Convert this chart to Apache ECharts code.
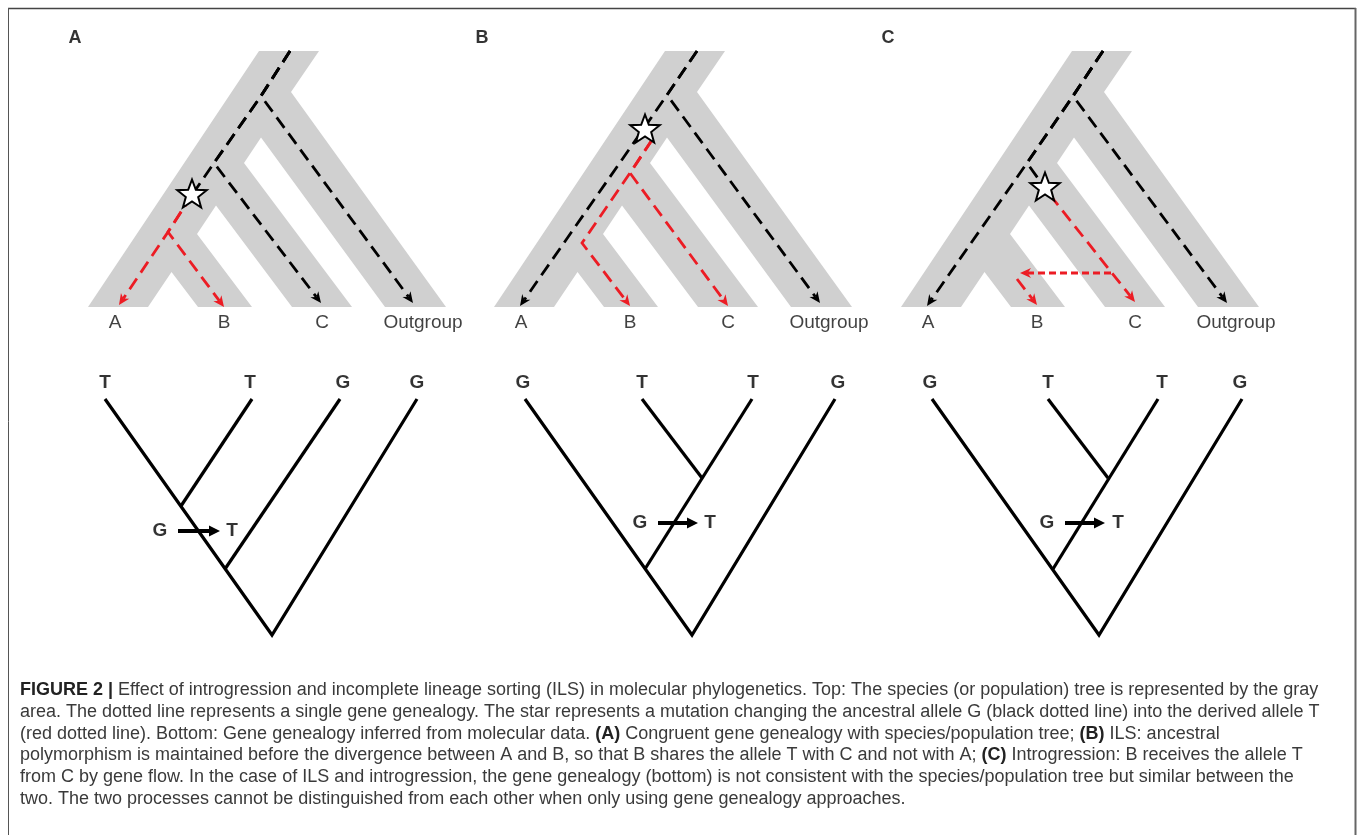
<!DOCTYPE html>
<html><head><meta charset="utf-8">
<script src="https://cdn.jsdelivr.net/npm/echarts@6/dist/echarts.min.js"></script>
<style>html,body{margin:0;padding:0;background:#fff}#c{width:1357px;height:835px}</style>
</head><body><div id="c"></div>
<script>
// ---------- data ----------
const W = 1357, H = 835;
const panelLetters = ['A', 'B', 'C'];
const panelLetterX = [75, 482, 888];
const panelLetterY = 38;
const panelOffsets = [0, 406, 813];

// species (population) tree outline for panel A, shifted by panelOffsets
const speciesOutline = [[259,51],[319,51],[291,92],[446,307],[385,307],[261,137.5],[244,163],[352,307],[292,307],[216,205.5],[197,234],[252,307],[198,307],[171.5,272],[148,307],[88,307]];
const tipNames = ['A', 'B', 'C', 'Outgroup'];
const tipNameX = [115, 224, 322, 423];
const tipNameY = 323;

// gene genealogies inside the species trees (k = ancestral G, r = derived T)
const lineageColor = ['k', 'k', 'k', 'r', 'r',   'k', 'k', 'r', 'r',   'k', 'k', 'k', 'r', 'r', 'r'];
const lineageDash  = ['l', 'l', 'l', 'l', 'l',   'l', 'l', 'l', 'l',   'l', 'l', 'l', 'l', 's', 'l'];
const lineageArrow = [1, 1, 0, 1, 1,             1, 1, 1, 1,           1, 1, 0, 1, 1, 1];
const lineagePaths = [
  // panel A
  [[290,51],[261,96],[413,303]],
  [[290,51],[261,96],[214,163],[321,303]],
  [[290,51],[261,96],[214,163],[192,195]],
  [[192,195],[168,232],[119,305]],
  [[192,195],[168,232],[224,307]],
  // panel B
  [[697,51],[667,95],[820,303]],
  [[697,51],[667,95],[520,306]],
  [[652,140],[630,173],[728,306]],
  [[652,140],[630,173],[582,243],[630,306]],
  // panel C
  [[1103,51],[1073,96],[1227,303]],
  [[1103,51],[1073,96],[1027,163],[927,306]],
  [[1103,51],[1073,96],[1027,163],[1045,188]],
  [[1050,195],[1135,302]],
  [[1111,273],[1020,273]],
  [[1017,279],[1037,305]]
];
const starCenters = [[192,195],[645,130],[1045,188]];

// gene genealogies (bottom)
const geneTipAlleles = [['T','T','G','G'], ['G','T','T','G'], ['G','T','T','G']];
const geneTipX = [[105,250,343,417], [523,642,753,838], [930,1048,1162,1240]];
const geneTipY = 383;
const geneBranches = [
  [[105,399],[272,635],[417,399]], [[252,399],[181,506]], [[340,399],[225,569]],
  [[525,399],[692,635],[835,399]], [[752,399],[645,569]], [[642,399],[702,478]],
  [[932,399],[1099,635],[1242,399]], [[1158,399],[1053,569]], [[1048,399],[1108,478]]
];
// mutation G -> T : [G x, arrow start, arrow end, T x, y]
const mutations = [[160,178,220,232,531], [640,658,698,710,523], [1047,1065,1105,1118,523]];

const captionLines = [
  '{b|FIGURE 2 |} Effect of introgression and incomplete lineage sorting (ILS) in molecular phylogenetics. Top: The species (or population) tree is represented by the gray',
  'area. The dotted line represents a single gene genealogy. The star represents a mutation changing the ancestral allele G (black dotted line) into the derived allele T',
  '(red dotted line). Bottom: Gene genealogy inferred from molecular data. {b|(A)} Congruent gene genealogy with species/population tree; {b|(B)} ILS: ancestral',
  'polymorphism is maintained before the divergence between A and B, so that B shares the allele T with C and not with A; {b|(C)} Introgression: B receives the allele T',
  'from C by gene flow. In the case of ILS and introgression, the gene genealogy (bottom) is not consistent with the species/population tree but similar between the',
  'two. The two processes cannot be distinguished from each other when only using gene genealogy approaches.'
];
const captionY = [691, 713, 735, 756.5, 778, 800];

// ---------- styles ----------
const GRAY = '#d0d0d0';
const COLORS = {k: '#000000', r: '#ec1c24'};
const DASHES = {l: [13, 7], s: [7, 4]};
const FONT = 'Liberation Sans, Arial, sans-serif';

function arrowHead(tip, prev, len, half) {
  const dx = tip[0]-prev[0], dy = tip[1]-prev[1], L = Math.hypot(dx, dy);
  const ux = dx/L, uy = dy/L, px = -uy, py = ux;
  const bx = tip[0]-ux*len, by = tip[1]-uy*len;
  return {
    head: [tip, [bx+px*half, by+py*half], [tip[0]-ux*len*0.7, tip[1]-uy*len*0.7], [bx-px*half, by-py*half]],
    base: [tip[0]-ux*len*0.7, tip[1]-uy*len*0.7]
  };
}

const chart = echarts.init(document.getElementById('c'), null, {renderer: 'canvas'});

const scatterLabels = (data, fontSize, weight, color) => ({
  type: 'scatter', data: data, symbolSize: 0, silent: true, z: 10,
  label: {show: true, position: 'inside', formatter: p => p.data[2], fontFamily: FONT,
          fontSize: fontSize, fontWeight: weight, color: color}
});

const tipLabelData = [];
panelOffsets.forEach(o => tipNames.forEach((n, i) => tipLabelData.push([tipNameX[i] + o, tipNameY, n])));
const panelLetterData = panelLetters.map((l, i) => [panelLetterX[i], panelLetterY, l]);
const alleleData = [];
geneTipAlleles.forEach((arr, p) => arr.forEach((a, i) => alleleData.push([geneTipX[p][i], geneTipY, a])));
mutations.forEach(m => { alleleData.push([m[0], m[4], 'G']); alleleData.push([m[3], m[4], 'T']); });

const option = {
  animation: false,
  backgroundColor: '#ffffff',
  grid: {left: 0, right: 0, top: 0, bottom: 0},
  xAxis: {type: 'value', min: 0, max: W, show: false},
  yAxis: {type: 'value', min: 0, max: H, inverse: true, show: false},
  series: [
    { // species trees
      type: 'custom', z: 1, silent: true,
      data: panelOffsets.map(o => [o, 0]),
      renderItem: (params, api) => {
        const off = api.value(0);
        return {type: 'polygon', shape: {points: speciesOutline.map(p => api.coord([p[0]+off, p[1]]))},
                style: {fill: GRAY, stroke: null}};
      }
    },
    { // gene lineages in species trees
      type: 'custom', z: 2, silent: true,
      data: lineagePaths.map((p, i) => [i, 0]),
      renderItem: (params, api) => {
        const i = api.value(0);
        const pts = lineagePaths[i].map(p => api.coord(p));
        const color = COLORS[lineageColor[i]];
        const children = [];
        let linePts = pts.slice();
        if (lineageArrow[i]) {
          const n = pts.length;
          const ah = arrowHead(pts[n-1], pts[n-2], 11, 5);
          linePts[n-1] = ah.base;
          children.push({type: 'polygon', shape: {points: ah.head}, style: {fill: color, stroke: null}});
        }
        children.unshift({type: 'polyline', shape: {points: linePts},
          style: {stroke: color, lineWidth: 2.8, fill: null, lineDash: DASHES[lineageDash[i]], lineCap: 'butt', lineJoin: 'miter'}});
        return {type: 'group', children: children};
      }
    },
    { // mutation stars
      type: 'custom', z: 3, silent: true,
      data: starCenters.map(c => [c[0], c[1]]),
      renderItem: (params, api) => {
        const c = api.coord([api.value(0), api.value(1)]);
        const pts = [];
        for (let k = 0; k < 10; k++) {
          const r = k % 2 ? 6.5 : 15.5;
          const a = -Math.PI/2 + k*Math.PI/5;
          pts.push([c[0] + r*Math.cos(a), c[1] + r*Math.sin(a)]);
        }
        return {type: 'polygon', shape: {points: pts}, style: {fill: '#fff', stroke: '#000', lineWidth: 2, lineJoin: 'miter'}};
      }
    },
    { // gene genealogies
      type: 'custom', z: 2, silent: true,
      data: geneBranches.map((b, i) => [i, 0]),
      renderItem: (params, api) => {
        const pts = geneBranches[api.value(0)].map(p => api.coord(p));
        return {type: 'polyline', shape: {points: pts}, style: {stroke: '#000', lineWidth: 3.2, fill: null, lineJoin: 'miter', lineCap: 'butt'}};
      }
    },
    { // mutation arrows G -> T
      type: 'custom', z: 2, silent: true,
      data: mutations.map((m, i) => [i, 0]),
      renderItem: (params, api) => {
        const m = mutations[api.value(0)];
        const s = api.coord([m[1], m[4]]), e = api.coord([m[2], m[4]]);
        const len = 11, half = 5.5;
        return {type: 'group', children: [
          {type: 'line', shape: {x1: s[0], y1: s[1], x2: e[0]-len+1, y2: e[1]}, style: {stroke: '#000', lineWidth: 4}},
          {type: 'polygon', shape: {points: [[e[0], e[1]], [e[0]-len, e[1]-half], [e[0]-len, e[1]+half]]}, style: {fill: '#000'}}
        ]};
      }
    },
    scatterLabels(tipLabelData, 19, 'normal', '#111'),
    scatterLabels(panelLetterData, 18, 'bold', '#000'),
    scatterLabels(alleleData, 19, 'bold', '#000')
  ],
  graphic: [
    {type: 'line', shape: {x1: 8, y1: 8.5, x2: 1356, y2: 8.5}, style: {stroke: '#444', lineWidth: 1.5}},
    {type: 'line', shape: {x1: 8.5, y1: 8, x2: 8.5, y2: 835}, style: {stroke: '#555', lineWidth: 1}},
    {type: 'line', shape: {x1: 1355.5, y1: 8, x2: 1355.5, y2: 835}, style: {stroke: '#666', lineWidth: 2}}
  ].concat(captionLines.map((t, i) => ({
    type: 'text', left: 20, top: captionY[i] - 10,
    style: {text: t, fontFamily: FONT, fontSize: 18, fill: '#3a3a3a',
      rich: {b: {fontWeight: 'bold', fontFamily: FONT, fontSize: 18, fill: '#222'}}}
  })))
};
chart.setOption(option);
</script></body></html>
